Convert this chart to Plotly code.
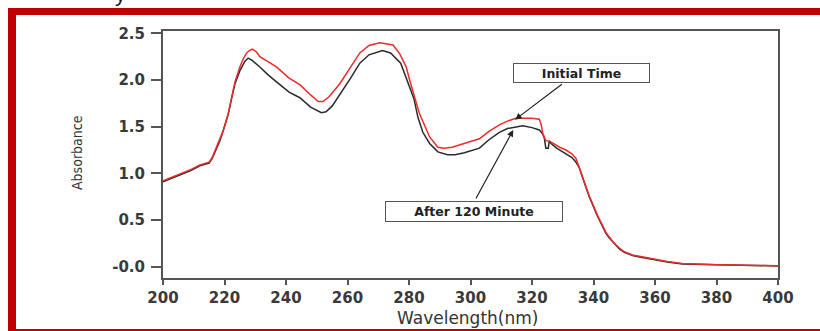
import plotly.graph_objects as go

# ---------------- data ----------------
wl_initial = [200, 203, 206, 209, 212, 215, 216, 217, 218.5, 219.6, 221.2, 222.3, 223.4, 225, 226,
              227.2, 228.3, 229.1, 230.4, 231.5, 234, 236.9, 241, 244.5, 248, 250.5, 252, 254, 257.5,
              261, 264, 267, 270.5, 274.8, 277, 279.1, 280.2, 283.4, 286.7, 289.4, 291.5, 294, 298,
              302.9, 306, 309.4, 312, 314.8, 318, 320, 322.4, 323, 323.5, 324.5, 326, 327, 329, 331,
              333, 334.3, 336.5, 338.6, 341.3, 344, 345.1, 346.5, 348.4, 350, 352.7, 355, 359.2, 364,
              368.9, 372, 376, 380, 385, 390, 395, 400]
abs_initial = [0.92, 0.96, 1.00, 1.04, 1.09, 1.12, 1.17, 1.25, 1.36, 1.46, 1.64, 1.82, 1.98, 2.14, 2.22,
               2.29, 2.32, 2.33, 2.30, 2.25, 2.20, 2.14, 2.02, 1.95, 1.84, 1.77, 1.77, 1.82, 1.96,
               2.14, 2.29, 2.37, 2.40, 2.375, 2.28, 2.14, 2.00, 1.64, 1.39, 1.28, 1.27, 1.28, 1.32,
               1.37, 1.45, 1.52, 1.56, 1.59, 1.59, 1.59, 1.58, 1.52, 1.43, 1.35, 1.34, 1.32, 1.28, 1.25,
               1.21, 1.16, 0.96, 0.76, 0.55, 0.37, 0.32, 0.26, 0.20, 0.16, 0.125, 0.11, 0.085, 0.055,
               0.035, 0.03, 0.025, 0.022, 0.018, 0.015, 0.012, 0.01]

wl_after = [200, 203, 206, 209, 212, 215, 216, 217, 218.5, 219.6, 221.2, 222.3, 223.4, 225, 226.6,
            227.7, 229, 231.5, 234, 236.9, 241, 244.5, 248, 251.5, 253, 255, 257.5, 261, 264, 267,
            271.4, 274, 277.3, 279.6, 281.6, 282.9, 284.5, 286.7, 289.4, 292.5, 295, 298, 302.9, 306,
            309.4, 312, 314.8, 317, 320, 322.4, 323.5, 324, 324.5, 325.3, 325.6, 326.2, 328, 331, 333,
            334.3, 335.4, 336.5, 338.6, 341.3, 344, 345.1, 348.4, 350, 352.7, 355, 359.2, 364, 368.9,
            372, 376, 380, 385, 390, 395, 400]
abs_after = [0.91, 0.95, 0.99, 1.03, 1.08, 1.11, 1.16, 1.24, 1.35, 1.46, 1.63, 1.80, 1.96, 2.10, 2.20,
             2.235, 2.21, 2.14, 2.06, 1.98, 1.87, 1.81, 1.71, 1.65, 1.66, 1.72, 1.84, 2.02, 2.18, 2.27,
             2.315, 2.29, 2.18, 1.98, 1.80, 1.60, 1.44, 1.32, 1.23, 1.20, 1.20, 1.22, 1.27, 1.36,
             1.44, 1.48, 1.50, 1.51, 1.49, 1.465, 1.42, 1.38, 1.27, 1.27, 1.35, 1.32, 1.27, 1.215, 1.17,
             1.12, 1.06, 0.95, 0.75, 0.54, 0.36, 0.31, 0.19, 0.155, 0.12, 0.105, 0.08, 0.05, 0.03,
             0.028, 0.022, 0.02, 0.016, 0.012, 0.01, 0.008]

x_ticks = [200, 220, 240, 260, 280, 300, 320, 340, 360, 380, 400]
y_ticks = [0.0, 0.5, 1.0, 1.5, 2.0, 2.5]
y_ticktext = ["-0.0", "0.5", "1.0", "1.5", "2.0", "2.5"]

# ---------------- layout geometry ----------------
W, H = 820, 331
ML, MR, MT, MB = 163, 42, 31, 53
PW, PH = W - ML - MR, H - MT - MB


def px(xp):
    return (xp - ML) / PW


def py(yp):
    return (H - MB - yp) / PH


fig = go.Figure()
fig.add_trace(go.Scatter(x=wl_after, y=abs_after, mode="lines", name="After 120 Minute",
                         line=dict(color="#2a2a2a", width=1.5)))
fig.add_trace(go.Scatter(x=wl_initial, y=abs_initial, mode="lines", name="Initial Time",
                         line=dict(color="#ee2a2a", width=1.5)))

axis_common = dict(showline=True, linecolor="#555555", linewidth=2, mirror=True,
                   showgrid=False, zeroline=False, ticks="outside", tickcolor="#555555",
                   tickwidth=1.5,
                   tickfont=dict(family="DejaVu Sans", size=15, color="#3a3a3a", weight="bold"))

fig.update_layout(
    width=W, height=H,
    margin=dict(l=ML, r=MR, t=MT, b=MB),
    paper_bgcolor="white", plot_bgcolor="white",
    showlegend=False,
    xaxis=dict(range=[200, 400], tickvals=x_ticks, ticklen=5, **axis_common),
    yaxis=dict(range=[-0.121, 2.525], tickvals=y_ticks, ticktext=y_ticktext, ticklen=10,
               ticklabelstandoff=3, **axis_common),
)

annotations = [
    # axis titles
    dict(xref="paper", yref="paper", x=px(467), y=py(318), text="Wavelength(nm)", showarrow=False,
         font=dict(family="DejaVu Sans", size=17, color="#333333"), xanchor="center", yanchor="middle"),
    dict(xref="paper", yref="paper", x=px(77), y=py(153), text="Absorbance", showarrow=False,
         textangle=-90, font=dict(family="DejaVu Sans Condensed, Liberation Sans", size=14, color="#333333"),
         xanchor="center", yanchor="middle"),
    # callout boxes
    dict(x=336.1, y=2.079, text="<b>Initial Time</b>", showarrow=False, width=135, height=18,
         bordercolor="#555555", borderwidth=1, borderpad=0, bgcolor="white",
         font=dict(family="DejaVu Sans", size=12.5, color="#222222")),
    dict(x=301.1, y=0.595, text="<b>After 120 Minute</b>", showarrow=False, width=176, height=19,
         bordercolor="#555555", borderwidth=1, borderpad=0, bgcolor="white",
         font=dict(family="DejaVu Sans", size=12.5, color="#222222")),
    # arrows
    dict(x=314.5, y=1.575, ax=330.2, ay=1.966, axref="x", ayref="y", text="", showarrow=True,
         arrowhead=2, arrowsize=1.1, arrowwidth=1.2, arrowcolor="#222222", standoff=0),
    dict(x=313.9, y=1.465, ax=301.5, ay=0.715, axref="x", ayref="y", text="", showarrow=True,
         arrowhead=2, arrowsize=1.1, arrowwidth=1.2, arrowcolor="#222222", standoff=0),
    # cut-off page text at the very top
    dict(xref="paper", yref="paper", x=px(120), y=py(8), text="y", showarrow=False,
         xanchor="center", yanchor="bottom",
         font=dict(family="Liberation Sans", size=22, color="#111111")),
]
fig.update_layout(annotations=annotations)

red = "#c00000"
shapes = [
    dict(type="rect", xref="paper", yref="paper", x0=px(8), x1=px(820), y0=py(8), y1=py(15),
         fillcolor=red, line=dict(width=0), layer="above"),
    dict(type="rect", xref="paper", yref="paper", x0=px(8), x1=px(16), y0=py(8), y1=py(331),
         fillcolor=red, line=dict(width=0), layer="above"),
    dict(type="rect", xref="paper", yref="paper", x0=px(8), x1=px(820), y0=py(329), y1=py(331),
         fillcolor=red, line=dict(width=0), layer="above"),
]
fig.update_layout(shapes=shapes)

fig.write_html("out.html", config={"displayModeBar": False},
               post_script="document.body.style.margin='0px';document.body.style.overflow='hidden';")
